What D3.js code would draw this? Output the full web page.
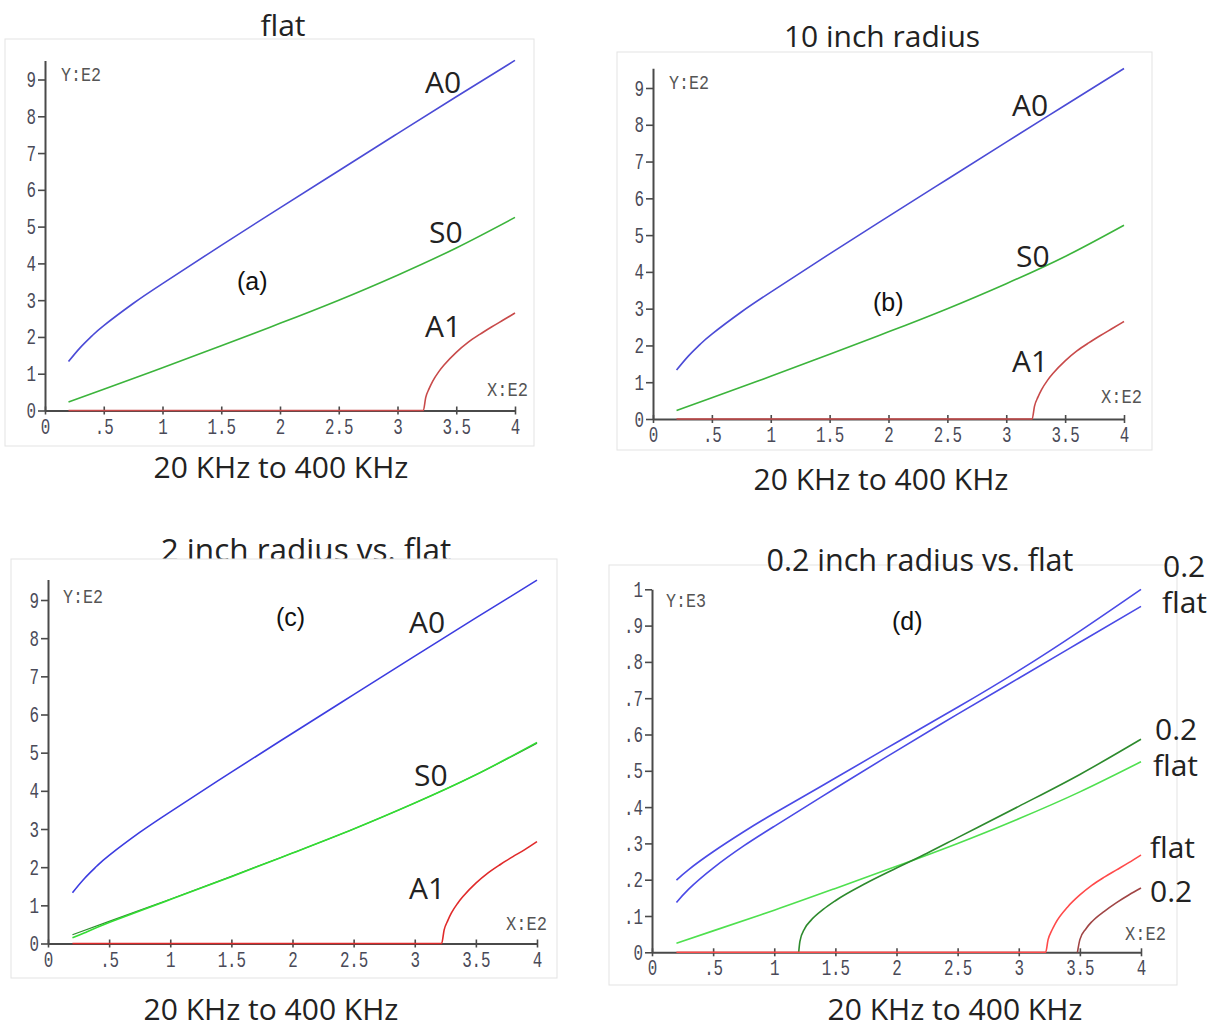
<!DOCTYPE html>
<html><head><meta charset="utf-8">
<script src="https://cdn.jsdelivr.net/npm/d3@7"></script>
<style>body{margin:0;background:#fff}</style></head>
<body>
<svg id="chart" width="1221" height="1028"></svg>
<script>
// ---------- data ----------
const xTicks = [0, 0.5, 1, 1.5, 2, 2.5, 3, 3.5, 4];
const xTickLabels = ["0", ".5", "1", "1.5", "2", "2.5", "3", "3.5", "4"];
const yTicksE2 = [0, 1, 2, 3, 4, 5, 6, 7, 8, 9];
const yTickLabelsE2 = ["0", "1", "2", "3", "4", "5", "6", "7", "8", "9"];
const yTicksE3 = [0, 0.1, 0.2, 0.3, 0.4, 0.5, 0.6, 0.7, 0.8, 0.9, 1];
const yTickLabelsE3 = ["0", ".1", ".2", ".3", ".4", ".5", ".6", ".7", ".8", ".9", "1"];

// (a) flat  (x in E2 kHz, y in E2)
const flatA0 = [[0.2,1.33],[0.3,1.71],[0.4,2.03],[0.5,2.31],[0.75,2.91],[1,3.45],[1.5,4.49],[2,5.51],[2.5,6.52],[3,7.53],[3.5,8.53],[4,9.52]];
const flatS0 = [[0.2,0.23],[0.5,0.58],[1,1.16],[1.5,1.76],[2,2.37],[2.5,3.0],[3,3.68],[3.5,4.42],[4,5.25]];
const flatA1 = [[0.2,0],[3.22,0],[3.24,0.35],[3.27,0.6],[3.3,0.8],[3.35,1.05],[3.4,1.25],[3.5,1.58],[3.6,1.85],[3.7,2.07],[3.8,2.27],[3.9,2.46],[4,2.65]];
// (b) 10 inch radius
const r10A0 = [[0.2,1.33],[0.3,1.71],[0.4,2.03],[0.5,2.31],[0.75,2.91],[1,3.45],[1.5,4.49],[2,5.51],[2.5,6.52],[3,7.53],[3.5,8.53],[4,9.53]];
const r10S0 = [[0.2,0.23],[0.5,0.58],[1,1.16],[1.5,1.76],[2,2.37],[2.5,3.0],[3,3.68],[3.5,4.42],[4,5.27]];
const r10A1 = [[0.2,0],[3.22,0],[3.24,0.35],[3.27,0.6],[3.3,0.8],[3.35,1.05],[3.4,1.25],[3.5,1.58],[3.6,1.85],[3.7,2.07],[3.8,2.27],[3.9,2.46],[4,2.65]];
// (c) 2 inch radius vs flat
const r2A0 = [[0.2,1.33],[0.3,1.71],[0.4,2.03],[0.5,2.31],[0.75,2.91],[1,3.45],[1.5,4.49],[2,5.51],[2.5,6.52],[3,7.53],[3.5,8.53],[4,9.52]];
const r2S0 = [[0.2,0.15],[0.3,0.28],[0.5,0.55],[1,1.15],[1.5,1.75],[2,2.37],[2.5,3.0],[3,3.68],[3.5,4.42],[4,5.27]];
const r2A1 = [[0.2,0],[3.22,0],[3.24,0.35],[3.27,0.6],[3.3,0.8],[3.35,1.05],[3.4,1.25],[3.5,1.58],[3.6,1.85],[3.7,2.07],[3.8,2.27],[3.9,2.46],[4,2.67]];
// (d) 0.2 inch radius vs flat (y in E3)
const d02A0 = [[0.2,0.199],[0.3,0.228],[0.5,0.277],[0.75,0.332],[1,0.383],[1.5,0.48],[2,0.578],[2.5,0.675],[3,0.776],[3.5,0.885],[4,1.0]];
const dFlatA0 = [[0.2,0.137],[0.3,0.174],[0.5,0.232],[0.75,0.293],[1,0.347],[1.5,0.452],[2,0.555],[2.5,0.656],[3,0.755],[3.5,0.854],[4,0.953]];
const dFlatS0 = [[0.2,0.025],[0.5,0.059],[1,0.116],[1.5,0.176],[2,0.237],[2.5,0.3],[3,0.368],[3.5,0.442],[4,0.525]];
const d02S0 = [[1.2,0],[1.21,0.03],[1.25,0.066],[1.3,0.088],[1.4,0.118],[1.5,0.142],[1.75,0.19],[2,0.232],[2.25,0.273],[2.5,0.316],[3,0.402],[3.5,0.49],[4,0.587]];
const dFlatA1 = [[0.2,0],[3.22,0],[3.24,0.035],[3.27,0.06],[3.3,0.08],[3.4,0.125],[3.5,0.158],[3.6,0.185],[3.7,0.207],[3.8,0.227],[3.9,0.247],[4,0.268]];
const d02A1 = [[3.48,0],[3.5,0.035],[3.55,0.065],[3.6,0.085],[3.7,0.113],[3.8,0.137],[3.9,0.158],[4,0.177]];

// ---------- layout ----------
const svg = d3.select("#chart");
const SANS = "'Open Sans', 'Noto Sans', sans-serif";
const MONO = "'Liberation Mono', 'DejaVu Sans Mono', monospace";

const panels = [
  { frame:[5,39,534,446], x0:45, x4:515, y0:410.5, yTopPx:79.5, yTopVal:9, yAxisMax:9.52,
    yTicks:yTicksE2, yLabels:yTickLabelsE2, yUnit:"Y:E2", yUnitPos:[61,81], xUnitPos:[487,396],
    title:{t:"flat", x:283, y:36, under:false, fs:30}, bottom:{x:281,y:478},
    tag:{t:"(a)", x:237, y:290}, lfs:30,
    series:[{d:flatA0,c:"#4b4bd6",s:1},{d:flatS0,c:"#3cb43c",s:1},{d:flatA1,c:"#c84a4a"}],
    labels:[{t:"A0",x:425,y:93},{t:"S0",x:429,y:243},{t:"A1",x:425,y:337}] },
  { frame:[617,52,1152,450], x0:653, x4:1124, y0:419, yTopPx:88, yTopVal:9, yAxisMax:9.54,
    yTicks:yTicksE2, yLabels:yTickLabelsE2, yUnit:"Y:E2", yUnitPos:[669,89], xUnitPos:[1101,403],
    title:{t:"10 inch radius", x:882, y:47, under:false, fs:30}, bottom:{x:881,y:490},
    tag:{t:"(b)", x:873, y:311}, lfs:30,
    series:[{d:r10A0,c:"#4b4bd6",s:1},{d:r10S0,c:"#3cb43c",s:1},{d:r10A1,c:"#c84a4a"}],
    labels:[{t:"A0",x:1012,y:116},{t:"S0",x:1016,y:267},{t:"A1",x:1012,y:372}] },
  { frame:[11,559,557,978], x0:48, x4:537, y0:943.5, yTopPx:600, yTopVal:9, yAxisMax:9.54,
    yTicks:yTicksE2, yLabels:yTickLabelsE2, yUnit:"Y:E2", yUnitPos:[63,603], xUnitPos:[506,930],
    title:{t:"2 inch radius vs. flat", x:306, y:561, under:true, fs:31.5}, bottom:{x:271,y:1020},
    tag:{t:"(c)", x:276, y:626}, lfs:30,
    series:[{d:flatS0,c:"#2f8f2f",w:1.2,s:1},{d:r2A0,c:"#3c3ce0",s:1},{d:r2S0,c:"#33dd33",s:1},{d:r2A1,c:"#e02a2a"}],
    labels:[{t:"A0",x:409,y:633},{t:"S0",x:414,y:786},{t:"A1",x:409,y:899}] },
  { frame:[609,565,1177,985], x0:652, x4:1141, y0:952.3, yTopPx:589.3, yTopVal:1, yAxisMax:1.0,
    yTicks:yTicksE3, yLabels:yTickLabelsE3, yUnit:"Y:E3", yUnitPos:[666,607], xUnitPos:[1125,940],
    title:{t:"0.2 inch radius vs. flat", x:920, y:571, under:false, fs:30.5}, bottom:{x:955,y:1020},
    tag:{t:"(d)", x:892, y:630}, lfs:30,
    series:[{d:d02A0,c:"#4a4ae6",s:1},{d:dFlatA0,c:"#4a4ae6",s:1},{d:dFlatS0,c:"#4fe04f",s:1},{d:d02S0,c:"#2d8a2d"},
            {d:d02A1,c:"#a04545"},{d:dFlatA1,c:"#ff4a4a"}],
    labels:[{t:"0.2",x:1163,y:577},{t:"flat",x:1162,y:613},{t:"0.2",x:1155,y:740},{t:"flat",x:1153,y:776},
            {t:"flat",x:1150,y:858},{t:"0.2",x:1150,y:902}] }
];

function drawTitle(g, p) {
  g.append("text").attr("x", p.title.x).attr("y", p.title.y)
    .attr("text-anchor", "middle").attr("font-family", SANS).attr("font-size", p.title.fs)
    .attr("fill", "#222").text(p.title.t);
}

panels.forEach(p => {
  const g = svg.append("g");
  if (p.title.under) drawTitle(g, p);
  const [fx0, fy0, fx1, fy1] = p.frame;
  g.append("rect").attr("x", fx0).attr("y", fy0).attr("width", fx1 - fx0).attr("height", fy1 - fy0)
    .attr("fill", "#fff").attr("stroke", "#e3e3e3").attr("stroke-width", 1);
  if (!p.title.under) drawTitle(g, p);

  const x = d3.scaleLinear().domain([0, 4]).range([p.x0, p.x4]);
  const unit = (p.y0 - p.yTopPx) / p.yTopVal;
  const y = d3.scaleLinear().domain([0, p.yAxisMax]).range([p.y0, p.y0 - p.yAxisMax * unit]);

  const ya = g.append("g").attr("transform", `translate(${p.x0},0)`)
    .call(d3.axisLeft(y).tickValues(p.yTicks).tickFormat((d, i) => p.yLabels[i]).tickSize(7).tickSizeOuter(0));
  const xa = g.append("g").attr("transform", `translate(0,${p.y0})`)
    .call(d3.axisBottom(x).tickValues(xTicks).tickFormat((d, i) => xTickLabels[i]).tickSize(4).tickSizeOuter(0));

  [ya, xa].forEach(a => {
    a.select(".domain").attr("stroke", "#4a4a4a").attr("stroke-width", 2);
    a.selectAll(".tick line").attr("stroke", "#4a4a4a").attr("stroke-width", 1.6);
    a.selectAll(".tick text").attr("font-family", MONO).attr("font-size", 22)
      .attr("fill", "#4a4a58").attr("dy", null)
      .attr("textLength", function () { return this.textContent.length * 9.5; })
      .attr("lengthAdjust", "spacingAndGlyphs");
  });
  ya.selectAll(".tick text").attr("x", -9).attr("y", 7);
  xa.selectAll(".tick text").attr("y", 23);
  xa.selectAll(".tick line").attr("y1", -4).attr("y2", 4);

  g.append("text").attr("x", p.yUnitPos[0]).attr("y", p.yUnitPos[1]).attr("font-family", MONO)
    .attr("font-size", 20).attr("fill", "#555").attr("textLength", 40).attr("lengthAdjust", "spacingAndGlyphs").text(p.yUnit);
  g.append("text").attr("x", p.xUnitPos[0]).attr("y", p.xUnitPos[1]).attr("font-family", MONO)
    .attr("font-size", 20).attr("fill", "#555").attr("textLength", 41).attr("lengthAdjust", "spacingAndGlyphs").text("X:E2");

  const smooth = d3.line().x(d => x(d[0])).y(d => y(d[1])).curve(d3.curveNatural);
  const mono = d3.line().x(d => x(d[0])).y(d => y(d[1])).curve(d3.curveMonotoneX);
  p.series.forEach(s => {
    g.append("path").datum(s.d).attr("d", s.s ? smooth : mono).attr("fill", "none")
      .attr("stroke", s.c).attr("stroke-width", s.w || 1.6).attr("stroke-linejoin", "round");
  });

  p.labels.forEach(l => {
    g.append("text").attr("x", l.x).attr("y", l.y).attr("font-family", SANS).attr("font-size", p.lfs)
      .attr("fill", "#222").text(l.t);
  });
  g.append("text").attr("x", p.tag.x).attr("y", p.tag.y).attr("font-family", "'Liberation Sans', Arial, sans-serif")
    .attr("font-size", 25).attr("fill", "#111").text(p.tag.t);
  g.append("text").attr("x", p.bottom.x).attr("y", p.bottom.y).attr("text-anchor", "middle")
    .attr("font-family", SANS).attr("font-size", 30).attr("fill", "#222").text("20 KHz to 400 KHz");
});
</script>
</body></html>
